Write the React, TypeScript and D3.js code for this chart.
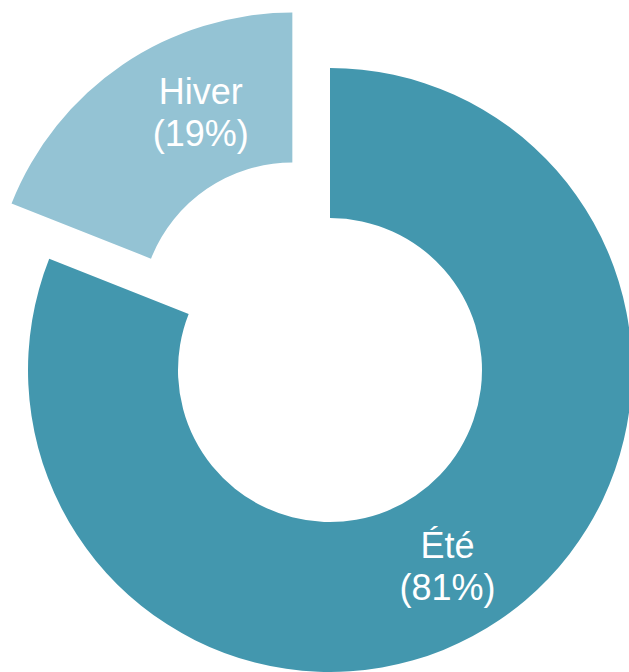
import * as d3 from 'd3';
import { useEffect, useRef } from 'react';

const seasons = ['Été', 'Hiver'];
const shares = [81, 19];
const colors = ['#4397AE', '#94C3D4'];

const W = 629;
const H = 672;

export default function App() {
  const ref = useRef<SVGSVGElement | null>(null);

  useEffect(() => {
    const cx = 330;
    const cy = 370;
    const outer = 302;
    const inner = 152;
    const explode = 67; // how far the small slice is pulled out
    const labelR = (outer + inner) / 2;
    // small nudges so the labels sit where the original put them
    const labelShift = [
      [-10, 8],
      [36, -15],
    ];

    const pie = d3.pie<number>().sort(null).value((d) => d);
    const arcs = pie(shares);
    const arc = d3.arc<d3.PieArcDatum<number>>().innerRadius(inner).outerRadius(outer);
    const arcLabel = d3.arc<d3.PieArcDatum<number>>().innerRadius(labelR).outerRadius(labelR);

    const svg = d3.select(ref.current);
    svg.selectAll('*').remove();

    const g = svg.append('g').attr('transform', `translate(${cx},${cy})`);

    const offset = (d: d3.PieArcDatum<number>, i: number) => {
      if (i === 0) return [0, 0];
      const a = (d.startAngle + d.endAngle) / 2;
      return [Math.sin(a) * explode, -Math.cos(a) * explode];
    };

    const slices = g
      .selectAll('g.slice')
      .data(arcs)
      .join('g')
      .attr('class', 'slice')
      .attr('transform', (d, i) => {
        const [dx, dy] = offset(d, i);
        return `translate(${dx},${dy})`;
      });

    slices
      .append('path')
      .attr('d', arc)
      .attr('fill', (_, i) => colors[i]);

    slices
      .append('text')
      .attr('transform', (d, i) => {
        const [x, y] = arcLabel.centroid(d);
        return `translate(${x + labelShift[i][0]},${y + labelShift[i][1]})`;
      })
      .attr('text-anchor', 'middle')
      .attr('font-family', '"Liberation Sans", Arial, Helvetica, sans-serif')
      .attr('font-size', 36)
      .attr('fill', '#ffffff')
      .selectAll('tspan')
      .data((d, i) => [seasons[i], `(${d.data}%)`])
      .join('tspan')
      .attr('x', 0)
      .attr('y', (_, j) => (j === 0 ? -8 : 34))
      .text((t) => t);
  }, []);

  return (
    <svg
      ref={ref}
      width={W}
      height={H}
      style={{ position: 'absolute', left: 0, top: 0, background: '#ffffff' }}
    />
  );
}
